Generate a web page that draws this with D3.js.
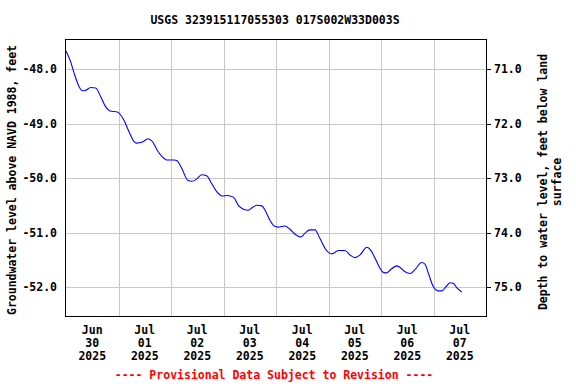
<!DOCTYPE html>
<html><head><meta charset="utf-8">
<script src="https://cdn.jsdelivr.net/npm/d3@7"></script>
<style>body{margin:0;background:#fff}svg{display:block}text{font-family:"DejaVu Sans Mono","Liberation Mono",monospace;font-weight:bold;font-size:11.5px}</style>
</head><body>
<script>
const title = "USGS 323915117055303 017S002W33D003S";
const leftLabel = "Groundwater level above NAVD 1988, feet";
const rightLabel = ["Depth to water level, feet below land", "surface"];
const footer = "---- Provisional Data Subject to Revision ----";
// hours since 2025-06-30 00:00 (local)
const hours = [0,2.15,3.66,5.94,7.45,9.0,11.3,13.6,15.9,18.1,20.1,23.5,24.7,26.5,28.8,31.1,32.3,34.9,37.5,39.5,41.7,44.0,46.3,49.4,50.6,52.9,55.6,57.5,59.7,62.0,64.3,66.6,68.9,71.5,73.7,76.5,78.8,81.1,83.3,85.6,87.2,89.5,91.0,93.3,95.2,97.0,100.1,102.4,104.7,107.3,109.3,111.5,113.8,116.1,118.9,121.5,124.5,127.5,129.8,132.1,134.4,137.5,139.0,141.3,143.2,145.1,146.6,148.1,151.2,152.7,155.0,157.3,159.5,162.6,164.1,165.6,167.9,170.2,171.7,174.0,175.5,177.0,178.6,180.9];
const levels = [-47.67,-47.87,-48.07,-48.32,-48.40,-48.39,-48.34,-48.35,-48.51,-48.69,-48.77,-48.79,-48.83,-48.94,-49.15,-49.33,-49.36,-49.34,-49.28,-49.33,-49.49,-49.61,-49.67,-49.67,-49.68,-49.82,-50.04,-50.06,-50.02,-49.94,-49.96,-50.10,-50.25,-50.33,-50.32,-50.35,-50.50,-50.57,-50.59,-50.53,-50.50,-50.51,-50.59,-50.78,-50.88,-50.90,-50.88,-50.94,-51.03,-51.08,-51.01,-50.95,-50.95,-51.11,-51.32,-51.39,-51.33,-51.33,-51.41,-51.46,-51.41,-51.27,-51.31,-51.47,-51.63,-51.73,-51.74,-51.69,-51.61,-51.64,-51.72,-51.75,-51.68,-51.55,-51.58,-51.74,-51.99,-52.07,-52.07,-51.98,-51.92,-51.93,-52.01,-52.09];
const leftTicks = [-48, -49, -50, -51, -52];
const rightTicks = [71, 72, 73, 74, 75];
const landOffset = 23; // depth = landOffset - level
const dayLabels = [["Jun","30","2025"],["Jul","01","2025"],["Jul","02","2025"],["Jul","03","2025"],["Jul","04","2025"],["Jul","05","2025"],["Jul","06","2025"],["Jul","07","2025"]];

const W = 576, H = 384;
const m = {l:65, r:486, t:39, b:316};
const t0 = new Date(2025,5,30,0,0);
const t1 = new Date(2025,6,8,0,0);
const x = d3.scaleTime().domain([t0,t1]).range([m.l+1,m.r]);
const y = d3.scaleLinear().domain([-52.53,-47.45]).range([m.b,m.t]);
const yR = d3.scaleLinear().domain([landOffset+52.53, landOffset+47.45]).range([m.b,m.t]);

const svg = d3.select("body").append("svg").attr("width",W).attr("height",H);

svg.append("text").attr("x",275).attr("y",24).attr("text-anchor","middle").text(title);

// gridlines
const dayTicks = d3.range(1,8).map(i => new Date(2025,5,30+i,0,0));
svg.append("g").selectAll("line").data(dayTicks).join("line")
  .attr("x1",d=>Math.round(x(d))+0.5).attr("x2",d=>Math.round(x(d))+0.5).attr("y1",m.t).attr("y2",m.b)
  .attr("stroke","#c8c8c8").attr("stroke-width",1);
svg.append("g").selectAll("line").data(leftTicks).join("line")
  .attr("x1",m.l).attr("x2",m.r).attr("y1",d=>Math.round(y(d))+0.5).attr("y2",d=>Math.round(y(d))+0.5)
  .attr("stroke","#c8c8c8").attr("stroke-width",1);

// data line
const pts = hours.map((h,i)=>({t:new Date(t0.getTime()+h*3600e3), v:levels[i]}));
svg.append("path").datum(pts)
  .attr("d", d3.line().x(d=>x(d.t)).y(d=>y(d.v)).curve(d3.curveMonotoneX))
  .attr("fill","none").attr("stroke","#0000ff").attr("stroke-width",1.1);

// frame
svg.append("rect").attr("x",m.l+0.5).attr("y",m.t+0.5).attr("width",m.r-m.l).attr("height",m.b-m.t)
  .attr("fill","none").attr("stroke","#000").attr("stroke-width",1);

// left axis labels
svg.append("g").selectAll("text").data(leftTicks).join("text")
  .attr("x",57).attr("y",d=>y(d)+4).attr("text-anchor","end").text(d=>d3.format(".1f")(d).replace("−","-"));
// right axis
const ra = svg.append("g");
ra.selectAll("line").data(rightTicks).join("line")
  .attr("x1",m.r).attr("x2",m.r+5).attr("y1",d=>Math.round(yR(d))+0.5).attr("y2",d=>Math.round(yR(d))+0.5).attr("stroke","#000");
ra.selectAll("text").data(rightTicks).join("text")
  .attr("x",494).attr("y",d=>yR(d)+4).attr("text-anchor","start").text(d=>d3.format(".1f")(d));

// bottom labels
const xl = svg.append("g").selectAll("text").data(dayLabels).join("text")
  .attr("text-anchor","middle")
  .attr("transform",(d,i)=>`translate(${x(new Date(2025,5,30+i,12,0))},0)`);
xl.selectAll("tspan").data(d=>d).join("tspan").attr("x",0).attr("y",(d,i)=>334+i*13).text(d=>d);

// axis titles
svg.append("text").attr("transform","translate(16,180) rotate(-90)").attr("text-anchor","middle").text(leftLabel);
svg.append("text").attr("transform","translate(547,182) rotate(-90)").attr("text-anchor","middle").text(rightLabel[0]);
svg.append("text").attr("transform","translate(561,182) rotate(-90)").attr("text-anchor","middle").text(rightLabel[1]);

svg.append("text").attr("x",274).attr("y",379).attr("text-anchor","middle").attr("fill","#ff0000").text(footer);
</script>
</body></html>
